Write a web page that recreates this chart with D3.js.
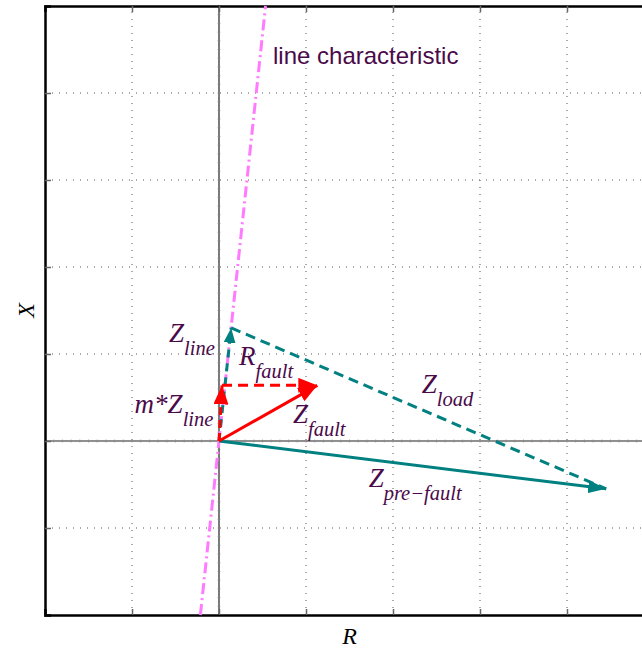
<!DOCTYPE html>
<html>
<head>
<meta charset="utf-8">
<script src="https://cdn.jsdelivr.net/npm/d3@7"></script>
<style>
  body { margin: 0; background: #fff; }
  svg { display: block; }
  .math { font-family: "Liberation Serif", "DejaVu Serif", serif; font-style: italic; fill: #4a0a4a; }
</style>
</head>
<body>
<svg id="chart" width="642" height="649"></svg>
<script>
/// Data ///
// axis range (both axes, same units)
const xDomain = [-2, 5];
const yDomain = [-2, 5];
const gridTicks = [-1, 0, 1, 2, 3, 4];

// vectors, [start, end] in R/X units
const lineChar = [[-0.214, -2], [0.535, 5]];
const zLine = [[0, 0], [0.14, 1.3]];
const mZLine = [[0, 0], [0.035, 0.64]];
const rFault = [[0.035, 0.64], [1.13, 0.64]];
const zFault = [[0, 0], [1.13, 0.64]];
const zLoad = [[0.14, 1.3], [4.45, -0.55]];
const zPreFault = [[0, 0], [4.45, -0.55]];

// labels: [main, subscript, x, y]
const labels = [
  ["Z", "line", -0.575, 1.14],
  ["m*Z", "line", -0.97, 0.32],
  ["R", "fault", 0.23, 0.875],
  ["Z", "fault", 0.85, 0.21],
  ["Z", "load", 2.33, 0.55],
  ["Z", "pre\u2212fault", 1.72, -0.53]
];

/// Drawing ///
const svg = d3.select("#chart");
const padLeft = 45, padTop = 6, unit = 87;

const x = d3.scaleLinear().domain(xDomain).range([padLeft, padLeft + unit * 7]);
const y = d3.scaleLinear().domain(yDomain).range([padTop + unit * 7, padTop]);

const defs = svg.append("defs");
function marker(id, color, len, wid) {
  defs.append("marker")
    .attr("id", id)
    .attr("viewBox", `0 ${-wid / 2} ${len} ${wid}`)
    .attr("refX", len).attr("refY", 0)
    .attr("markerWidth", len).attr("markerHeight", wid)
    .attr("markerUnits", "userSpaceOnUse")
    .attr("orient", "auto")
    .append("path")
    .attr("d", `M0,${-wid / 2}L${len},0L0,${wid / 2}Z`)
    .attr("fill", color);
}
marker("arrTeal", "#008080", 18, 13);
marker("arrTealSmall", "#008080", 15, 12);
marker("arrRed", "#ff0000", 19, 15);

// grid
const grid = svg.append("g");
gridTicks.filter(d => d !== 0).forEach(d => {
  grid.append("line")
    .attr("x1", x(d)).attr("x2", x(d))
    .attr("y1", y(yDomain[0])).attr("y2", y(yDomain[1]))
    .attr("stroke", "#555").attr("stroke-width", 1)
    .attr("stroke-dasharray", "1,6");
  grid.append("line")
    .attr("y1", y(d)).attr("y2", y(d))
    .attr("x1", x(xDomain[0])).attr("x2", x(xDomain[1]))
    .attr("stroke", "#555").attr("stroke-width", 1)
    .attr("stroke-dasharray", "1,6");
});

// zero axes with minor ticks
const minor = d3.range(-2, 5.001, 0.1);
const ax0 = svg.append("g");
ax0.append("line")
  .attr("x1", x(0)).attr("x2", x(0))
  .attr("y1", y(yDomain[0])).attr("y2", y(yDomain[1]))
  .attr("stroke", "#222").attr("stroke-width", 1.2);
ax0.append("line")
  .attr("y1", y(0)).attr("y2", y(0))
  .attr("x1", x(xDomain[0])).attr("x2", x(xDomain[1]))
  .attr("stroke", "#222").attr("stroke-width", 1.2);
ax0.selectAll(".mx").data(minor).join("line")
  .attr("x1", d => x(d)).attr("x2", d => x(d))
  .attr("y1", y(0) - 1.5).attr("y2", y(0) + 1.5)
  .attr("stroke", "#888").attr("stroke-width", 0.7);
ax0.selectAll(".my").data(minor).join("line")
  .attr("y1", d => y(d)).attr("y2", d => y(d))
  .attr("x1", x(0) - 1.5).attr("x2", x(0) + 1.5)
  .attr("stroke", "#888").attr("stroke-width", 0.7);

// frame with d3 axes (no labels)
svg.append("g")
  .attr("transform", `translate(0,${y(yDomain[0])})`)
  .call(d3.axisBottom(x).tickValues(gridTicks).tickSize(-6).tickFormat(""))
  .call(g => g.select(".domain").attr("stroke", "#000").attr("stroke-width", 2.5))
  .call(g => g.selectAll(".tick line").attr("stroke", "#666").attr("stroke-width", 1.5));
svg.append("g")
  .attr("transform", `translate(0,${y(yDomain[1])})`)
  .call(d3.axisTop(x).tickValues(gridTicks).tickSize(-6).tickFormat(""))
  .call(g => g.select(".domain").attr("stroke", "#000").attr("stroke-width", 2.5))
  .call(g => g.selectAll(".tick line").attr("stroke", "#666").attr("stroke-width", 1.5));
svg.append("g")
  .attr("transform", `translate(${x(xDomain[0])},0)`)
  .call(d3.axisLeft(y).tickValues(gridTicks).tickSize(-6).tickFormat(""))
  .call(g => g.select(".domain").attr("stroke", "#000").attr("stroke-width", 2.5))
  .call(g => g.selectAll(".tick line").attr("stroke", "#666").attr("stroke-width", 1.5));

// vectors
const line = d3.line().x(d => x(d[0])).y(d => y(d[1]));
function draw(pts, color, dash, mark, width) {
  const p = svg.append("path")
    .attr("d", line(pts))
    .attr("fill", "none")
    .attr("stroke", color)
    .attr("stroke-width", width || 3);
  if (dash) p.attr("stroke-dasharray", dash);
  if (mark) p.attr("marker-end", `url(#${mark})`);
  return p;
}

draw(lineChar, "#ff7aff", "11,4,2,4", null, 3);
draw(zLoad, "#008080", "10,6", null, 3);
draw(zPreFault, "#008080", null, "arrTeal", 3);
draw(zLine, "#008080", "8,6", "arrTealSmall", 3);
draw(mZLine, "#ff0000", "8,5", "arrRed", 3);
draw(rFault, "#ff0000", "10,6", "arrRed", 3);
draw(zFault, "#ff0000", null, "arrRed", 3);

// labels
labels.forEach(([main, sub, lx, ly]) => {
  const t = svg.append("text").attr("class", "math")
    .attr("x", x(lx)).attr("y", y(ly))
    .style("font-size", "27px");
  t.append("tspan").text(main);
  t.append("tspan").attr("dy", 13).style("font-size", "20.5px").text(sub);
});

svg.append("text")
  .attr("x", 273).attr("y", y(4.33))
  .attr("fill", "#4a0a4a")
  .style("font-family", "'Liberation Sans', Arial, sans-serif")
  .style("font-size", "24px")
  .text("line characteristic");

svg.append("text").attr("class", "math")
  .attr("transform", `translate(34,${y(1.5)}) rotate(-90)`)
  .attr("text-anchor", "middle")
  .style("fill", "#000").style("font-size", "24px")
  .text("X");
svg.append("text").attr("class", "math")
  .attr("x", x(1.5)).attr("y", 644)
  .attr("text-anchor", "middle")
  .style("fill", "#000").style("font-size", "24px")
  .text("R");
</script>
</body>
</html>
